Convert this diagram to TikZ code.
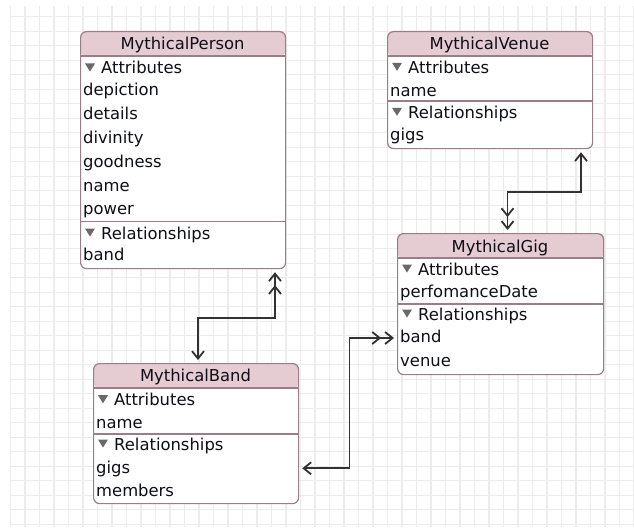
\documentclass[tikz,border=0pt]{standalone}
\usepackage{fontspec}
\setmainfont{DejaVu Sans}
\usetikzlibrary{arrows.meta}
\definecolor{hdr}{RGB}{229,203,210}
\definecolor{bord}{RGB}{155,125,135}
\definecolor{gridc}{RGB}{236,236,236}
\definecolor{connc}{RGB}{50,50,50}
\definecolor{txt}{RGB}{15,15,25}
\definecolor{trif}{RGB}{105,105,105}
\newcommand\trimark[2]{\fill[trif] (#1+5,#2-10.5) -- (#1+15,#2-10.5) -- (#1+10,#2-2.5) -- cycle;}
\begin{document}
\begin{tikzpicture}[x=1pt,y=-1pt,
  entity/.style={draw=bord, line width=1.2pt, rounded corners=6pt, fill=white, inner sep=0pt, anchor=north west,
    path picture={\fill[hdr] (path picture bounding box.north west) rectangle ([yshift=-25pt]path picture bounding box.north east);}},
  title/.style={anchor=base, inner sep=0pt, text=txt, font=\fontsize{16.4}{18}\selectfont},
  row/.style={anchor=base west, inner sep=0pt, text=txt, font=\fontsize{16.4}{18}\selectfont},
  sepline/.style={draw=bord, line width=1.2pt},
  rel/.style={draw=connc, line width=1.8pt},
  >={Straight Barb[length=7.5pt,width=12pt,sep=3pt]}]
\useasboundingbox (0,0) rectangle (634,527);
% grid
\begin{scope}
\clip (10,7) rectangle (634,527);
\foreach \k in {0,...,43} {\draw[gridc, line width=1.3pt] (10.5+14.5*\k,0) -- (10.5+14.5*\k,527);}
\foreach \k in {0,...,36} {\draw[gridc, line width=1.3pt] (0,2.2+14.5*\k) -- (634,2.2+14.5*\k);}
\end{scope}

% ---------- MythicalPerson ----------
\node[entity, minimum width=205pt, minimum height=237pt] (person) at (80,31) {};
\draw[sepline] ([yshift=-25pt]person.north west) -- ([yshift=-25pt]person.north east);
\draw[sepline] (person.west |- 0,221.7) -- (person.east |- 0,221.7);
\node[title] (person-t) at (182.5,49) {MythicalPerson};
\trimark{80}{74}
\node[row] (p-attr) at (101,74) {Attributes};
\node[row] (p-a1) at (83,95) {depiction};
\node[row] (p-a2) at (83,119) {details};
\node[row] (p-a3) at (83,143) {divinity};
\node[row] (p-a4) at (83,167) {goodness};
\node[row] (p-a5) at (83,191) {name};
\node[row] (p-a6) at (83,214) {power};
\trimark{80}{239}
\node[row] (p-rel) at (101,239) {Relationships};
\node[row] (p-r1) at (83,260.7) {band};

% ---------- MythicalVenue ----------
\node[entity, minimum width=205pt, minimum height=117pt] (venue) at (387,31) {};
\draw[sepline] ([yshift=-25pt]venue.north west) -- ([yshift=-25pt]venue.north east);
\draw[sepline] (venue.west |- 0,101) -- (venue.east |- 0,101);
\node[title] (venue-t) at (489.5,49) {MythicalVenue};
\trimark{387}{73.3}
\node[row] (v-attr) at (408,73.3) {Attributes};
\node[row] (v-a1) at (390,96) {name};
\trimark{387}{118.3}
\node[row] (v-rel) at (408,118.3) {Relationships};
\node[row] (v-r1) at (390,140) {gigs};

% ---------- MythicalGig ----------
\node[entity, minimum width=206pt, minimum height=141pt] (gig) at (397,233) {};
\draw[sepline] ([yshift=-25pt]gig.north west) -- ([yshift=-25pt]gig.north east);
\draw[sepline] (gig.west |- 0,304) -- (gig.east |- 0,304);
\node[title] (gig-t) at (500,252) {MythicalGig};
\trimark{397}{275}
\node[row] (g-attr) at (418,275) {Attributes};
\node[row] (g-a1) at (400,297.3) {perfomanceDate};
\trimark{397}{320}
\node[row] (g-rel) at (418,320) {Relationships};
\node[row] (g-r1) at (400,342.7) {band};
\node[row] (g-r2) at (400,366.7) {venue};

% ---------- MythicalBand ----------
\node[entity, minimum width=205pt, minimum height=140pt] (band) at (93,363) {};
\draw[sepline] ([yshift=-25pt]band.north west) -- ([yshift=-25pt]band.north east);
\draw[sepline] (band.west |- 0,434) -- (band.east |- 0,434);
\node[title] (band-t) at (195.5,381) {MythicalBand};
\trimark{93}{405.7}
\node[row] (b-attr) at (114,405.7) {Attributes};
\node[row] (b-a1) at (96,428.3) {name};
\trimark{93}{450}
\node[row] (b-rel) at (114,450) {Relationships};
\node[row] (b-r1) at (96,473.3) {gigs};
\node[row] (b-r2) at (96,496.7) {members};

% ---------- connectors ----------
\coordinate (c1a) at (198,318);
\coordinate (c1b) at (275,318);
\draw[rel, <->>] (c1a |- band.north) -- (c1a) -- (c1b) -- (c1b |- person.south);

\coordinate (c2a) at (581,191.7);
\coordinate (c2b) at (507.5,191.7);
\draw[rel, <->>] (c2a |- venue.south) -- (c2a) -- (c2b) -- (c2b |- gig.north);

\coordinate (c3a) at (349.5,468.3);
\coordinate (c3b) at (349.5,338);
\draw[rel, <->>] (band.east |- c3a) -- (c3a) -- (c3b) -- (gig.west |- c3b);
\end{tikzpicture}
\end{document}
